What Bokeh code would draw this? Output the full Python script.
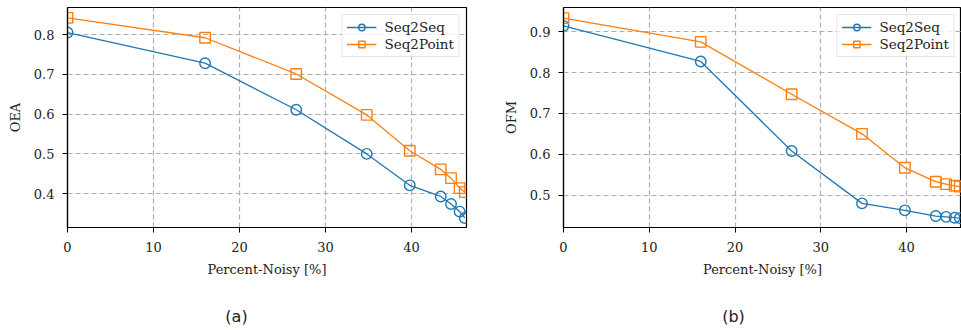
from bokeh.plotting import figure
from bokeh.layouts import row, column
from bokeh.models import Range1d, FixedTicker, Label, Legend
from bokeh.embed import file_html
from bokeh.resources import INLINE

# ---- data ----
noise_pct = [0, 16.0, 26.6, 34.8, 39.8, 43.4, 44.6, 45.6, 46.2]
oea_seq2seq = [0.805, 0.728, 0.611, 0.500, 0.421, 0.393, 0.374, 0.355, 0.339]
oea_seq2point = [0.842, 0.792, 0.701, 0.598, 0.508, 0.461, 0.439, 0.414, 0.404]
ofm_seq2seq = [0.914, 0.827, 0.608, 0.480, 0.463, 0.449, 0.447, 0.445, 0.444]
ofm_seq2point = [0.933, 0.875, 0.747, 0.650, 0.567, 0.533, 0.527, 0.523, 0.521]
x_ticks = [0, 10, 20, 30, 40]
oea_ticks = [0.4, 0.5, 0.6, 0.7, 0.8]
ofm_ticks = [0.5, 0.6, 0.7, 0.8, 0.9]
series_names = ["Seq2Seq", "Seq2Point"]
captions = ["(a)", "(b)"]
colors = ["#1f77b4", "#ff7f0e"]
markers = ["circle", "square"]

SERIF = "DejaVu Serif"


def panel(ylabel, ys, yticks, yrange, width, left_border, right_border):
    p = figure(width=width, height=290, output_backend="svg", toolbar_location=None,
               x_range=Range1d(0, 46.4), y_range=Range1d(*yrange),
               min_border_left=left_border, min_border_right=right_border,
               min_border_top=7, min_border_bottom=63)
    p.outline_line_color = "black"
    p.outline_line_width = 1.2
    p.background_fill_color = "white"
    p.border_fill_color = "white"
    for ax in (p.xaxis[0], p.yaxis[0]):
        ax.axis_line_color = "black"
        ax.axis_line_width = 1.2
        ax.major_tick_line_color = "black"
        ax.major_tick_in = 0
        ax.major_tick_out = 5
        ax.minor_tick_line_color = None
        ax.major_label_text_font = SERIF
        ax.major_label_text_font_size = "13px"
        ax.major_label_text_color = "#222222"
        ax.axis_label_text_font = SERIF
        ax.axis_label_text_font_size = "13px"
        ax.axis_label_text_font_style = "normal"
        ax.axis_label_text_color = "#222222"
    p.xaxis[0].ticker = FixedTicker(ticks=x_ticks)
    p.yaxis[0].ticker = FixedTicker(ticks=yticks)
    p.xaxis[0].axis_label = "Percent-Noisy [%]"
    p.yaxis[0].axis_label = ylabel
    p.xaxis[0].major_label_standoff = 9
    p.yaxis[0].major_label_standoff = 8
    p.xaxis[0].axis_label_standoff = 7
    p.yaxis[0].axis_label_standoff = 8
    for g in (p.xgrid[0], p.ygrid[0]):
        g.grid_line_color = "#b0b0b0"
        g.grid_line_width = 1.2
        g.grid_line_dash = "5 3"

    legend_items = []
    for name, y, c, m in zip(series_names, ys, colors, markers):
        ln = p.line(noise_pct, y, line_color=c, line_width=1.3)
        sc = p.scatter(noise_pct, y, marker=m, size=10.5, line_color=c, line_width=1.4,
                       fill_color="white", fill_alpha=0.0)
        legend_items.append((name, [ln, sc]))
    leg = Legend(items=legend_items, location="top_right")
    leg.label_text_font = SERIF
    leg.label_text_font_size = "13.5px"
    leg.label_text_color = "#222222"
    leg.border_line_color = "#cccccc"
    leg.border_line_width = 1
    leg.background_fill_alpha = 0.8
    leg.glyph_width = 30
    leg.glyph_height = 16
    leg.label_height = 16
    leg.spacing = 1
    leg.padding = 4
    leg.margin = 7
    leg.label_standoff = 8
    p.add_layout(leg)
    return p


def caption_fig(text, width, cx):
    c = figure(width=width, height=40, output_backend="svg", toolbar_location=None,
               x_range=Range1d(0, width), y_range=Range1d(0, 40),
               x_axis_location=None, y_axis_location=None,
               min_border=0, min_border_left=0, min_border_right=0,
               min_border_top=0, min_border_bottom=0)
    c.outline_line_color = None
    c.xgrid.visible = False
    c.ygrid.visible = False
    c.add_layout(Label(x=cx, y=14, text=text, text_align="center", text_baseline="middle",
                       text_font="DejaVu Sans", text_font_size="16px", text_color="#222222"))
    return c


p1 = panel("OEA", [oea_seq2seq, oea_seq2point], oea_ticks, (0.315, 0.868), 480, 67, 14)
p2 = panel("OFM", [ofm_seq2seq, ofm_seq2point], ofm_ticks, (0.421, 0.959), 481, 83, 0)
c1 = caption_fig(captions[0], 480, 236)
c2 = caption_fig(captions[1], 481, 253)

layout = column(row(p1, p2), row(c1, c2))
open("out.html", "w").write(file_html(layout, INLINE))
